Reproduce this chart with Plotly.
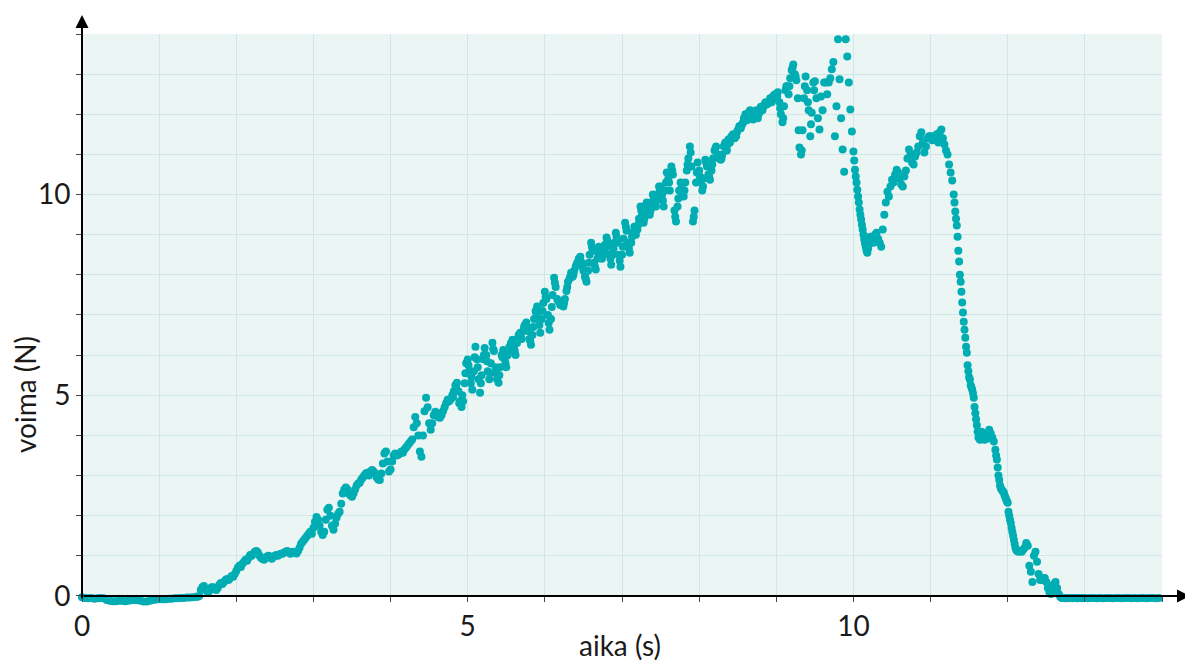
import numpy as np
import plotly.graph_objects as go

# ---------------- data ----------------
# start: 0.00 .. 1.48 s, every 0.04 s
f_start = [-0.03, -0.05, -0.06, -0.05, -0.07, -0.06, -0.05, -0.06, -0.10, -0.12,
           -0.13, -0.13, -0.12, -0.12, -0.13, -0.12, -0.11, -0.10, -0.11, -0.12,
           -0.14, -0.14, -0.12, -0.10, -0.09, -0.08, -0.08, -0.08, -0.07, -0.07,
           -0.06, -0.06, -0.05, -0.05, -0.04, -0.04, -0.03, -0.02]

# main: 1.50 .. 12.98 s, every 0.02 s (one row = half a second)
f_main = [
    # 1.50
    -0.02, 0.00, 0.15, 0.22, 0.25, 0.18, 0.12, 0.10, 0.15, 0.22, 0.22, 0.18, 0.15,
    0.20, 0.28, 0.32, 0.30, 0.35, 0.40, 0.42, 0.40, 0.45, 0.50, 0.48, 0.55,
    # 2.00
    0.62, 0.70, 0.75, 0.72, 0.80, 0.85, 0.90, 0.88, 0.95, 1.02, 1.00, 1.05, 1.10,
    1.12, 1.08, 1.00, 0.95, 0.92, 0.90, 0.95, 0.98, 1.00, 0.95, 0.93, 0.97,
    # 2.50
    1.00, 1.02, 1.00, 1.03, 1.05, 1.05, 1.08, 1.10, 1.12, 1.10, 1.05, 1.08, 1.10,
    1.08, 1.06, 1.12, 1.20, 1.30, 1.35, 1.40, 1.45, 1.50, 1.55, 1.60, 1.55,
    # 3.00
    1.70, 1.85, 1.97, 1.90, 1.75, 1.60, 1.52, 1.60, 1.90, 2.15, 2.20, 2.00, 1.75,
    1.65, 1.80, 1.95, 2.05, 2.10, 2.30, 2.55, 2.65, 2.70, 2.65, 2.55, 2.50,
    # 3.50
    2.47, 2.55, 2.65, 2.75, 2.80, 2.82, 2.90, 2.95, 3.00, 3.05, 3.07, 3.00, 3.10,
    3.14, 3.10, 3.05, 2.95, 2.90, 2.89, 3.05, 3.30, 3.55, 3.60, 3.35, 3.10,
    # 4.00
    3.15, 3.35, 3.50, 3.55, 3.50, 3.52, 3.55, 3.60, 3.57, 3.65, 3.70, 3.75, 3.80,
    3.85, 3.90, 4.20, 4.46, 4.30, 4.00, 3.60, 3.47, 4.00, 4.60, 4.94, 4.70,
    # 4.50
    4.30, 4.14, 4.30, 4.50, 4.59, 4.55, 4.45, 4.44, 4.50, 4.60, 4.70, 4.80, 4.89,
    4.85, 4.90, 5.00, 5.10, 5.25, 5.31, 5.10, 4.85, 4.71, 4.85, 5.30, 5.80,
    # 5.00
    5.89, 5.60, 5.30, 5.14, 5.60, 6.21, 5.90, 5.40, 5.06, 5.50, 5.90, 6.18, 6.00,
    5.60, 5.40, 5.80, 6.31, 6.10, 5.70, 5.40, 5.31, 5.70, 6.00, 6.13, 5.90,
    # 5.50
    5.70, 6.00, 6.20, 6.30, 6.38, 6.20, 6.00, 6.30, 6.50, 6.56, 6.40, 6.60, 6.75,
    6.81, 6.60, 6.40, 6.26, 6.50, 6.90, 7.10, 7.21, 6.90, 6.56, 6.90, 7.30,
    # 6.00
    7.58, 7.40, 7.00, 6.63, 6.90, 7.50, 7.93, 7.70, 7.40, 7.33, 7.25, 7.30, 7.21,
    7.40, 7.60, 7.83, 7.90, 8.05, 7.95, 8.10, 8.20, 8.30, 8.40, 8.45, 8.30,
    # 6.50
    8.10, 7.95, 7.83, 8.10, 8.50, 8.80, 8.60, 8.30, 8.13, 8.40, 8.70, 8.60, 8.40,
    8.50, 8.75, 8.93, 8.70, 8.50, 8.25, 8.50, 8.80, 9.05, 8.80, 8.50, 8.20,
    # 7.00
    8.50, 8.90, 9.30, 9.10, 8.80, 8.55, 8.80, 9.05, 9.20, 9.00, 9.13, 9.40, 9.70,
    9.50, 9.30, 9.60, 9.80, 9.70, 9.50, 9.80, 10.00, 9.90, 9.70, 10.00, 10.20,
    # 7.50
    10.20, 10.00, 9.70, 10.10, 10.55, 10.40, 10.10, 10.70, 10.50, 9.60, 9.33, 9.70, 10.10,
    10.30, 10.00, 9.95, 10.30, 10.60, 10.90, 11.20, 10.70, 9.33, 9.60, 10.30, 10.80,
    # 8.00
    10.60, 10.30, 10.10, 10.40, 10.87, 10.70, 10.50, 10.37, 10.60, 10.90, 11.10, 11.20, 11.00,
    10.90, 10.87, 11.00, 11.20, 11.30, 11.10, 11.37, 11.30, 11.45, 11.50, 11.40, 11.45,
    # 8.50
    11.60, 11.70, 11.65, 11.75, 11.90, 12.00, 11.85, 12.04, 12.10, 11.95, 11.87, 12.00, 12.10,
    11.90, 12.05, 12.19, 12.10, 12.20, 12.30, 12.25, 12.29, 12.40, 12.30, 12.45, 12.49,
    # 9.00
    12.40, 12.55, 12.30, 12.00, 11.80, 12.20, 12.60, 12.70, 12.50, 12.90, 13.10, 13.24, 13.00,
    12.85, 12.40, 11.17, 11.00, 11.60, 12.40, 12.94, 12.60, 12.10, 11.45, 12.04, 12.79,
    # 9.50
    12.82, 12.40, 11.90, 11.62, 12.44, 12.10, 12.79, 12.79, 12.50, 12.79, 12.90, 13.12, 13.30,
    11.45, 12.20, 13.87, 12.87, 11.90, 11.12, 10.57, 13.87, 13.44, 12.79, 12.12, 11.57,
    # 10.00
    11.07, 10.62, 10.30, 9.95, 9.63, 9.38, 9.13, 8.88, 8.70, 8.55, 8.75, 8.95, 8.85,
    8.80, 9.00, 9.05, 8.90, 8.80, 8.70, 9.13, 9.50, 9.80, 10.07, 9.95, 10.20,
    # 10.50
    10.37, 10.30, 10.50, 10.62, 10.55, 10.40, 10.25, 10.20, 10.45, 10.60, 10.90, 11.12, 11.00,
    10.80, 10.75, 10.95, 11.05, 11.20, 11.45, 11.55, 11.30, 11.05, 11.20, 11.40, 11.45,
    # 11.00
    11.45, 11.35, 11.45, 11.37, 11.50, 11.30, 11.55, 11.62, 11.40, 11.25, 11.10, 11.00, 10.75,
    10.55, 10.35, 10.00, 9.58, 9.23, 8.60, 8.00, 7.58, 7.06, 6.63, 6.21, 5.75,
    # 11.50
    5.45, 5.25, 5.14, 4.94, 4.55, 4.25, 3.95, 3.89, 4.09, 3.95, 3.89, 4.05, 3.92,
    4.14, 4.05, 3.95, 3.85, 3.64, 3.40, 3.00, 2.75, 2.65, 2.60, 2.50, 2.40,
    # 12.00
    2.32, 2.00, 1.82, 1.60, 1.40, 1.20, 1.12, 1.10, 1.12, 1.10, 1.15, 1.20, 1.32,
    1.25, 0.75, 0.60, 0.35, 1.00, 1.10, 0.85, 0.55, 0.40, 0.45, 0.40, 0.45,
    # 12.50
    0.35, 0.20, 0.10, 0.05, 0.15, 0.30, 0.35, 0.20, 0.05, -0.02, -0.05, -0.05, -0.06,
    -0.05, -0.06, -0.05, -0.05, -0.06, -0.05, -0.05, -0.06, -0.05, -0.05, -0.06, -0.05,
]

# end: 13.00 .. 13.96 s, every 0.04 s
f_end = [-0.05, -0.06, -0.05, -0.05, -0.06, -0.05, -0.06, -0.05, -0.05, -0.06,
         -0.05, -0.05, -0.06, -0.05, -0.05, -0.06, -0.05, -0.06, -0.05, -0.05,
         -0.06, -0.05, -0.05, -0.06, -0.05]

# extra samples in between (noisy band 4.81 .. 9.49 s, every 0.04 s)
f_band = [
    4.95, 5.20, 4.80, 5.00, 5.55,
    5.75, 5.45, 5.95, 5.70, 5.30, 6.00, 5.85, 5.55, 6.15, 5.55, 5.50, 5.95, 5.80,
    6.10, 6.25, 6.10, 6.40, 6.45, 6.70, 6.70, 6.35, 6.70, 7.05, 6.75, 7.10,
    7.45, 6.80, 7.20, 7.80, 7.35, 7.28, 7.30, 7.70, 7.95, 8.00, 8.25, 8.40, 8.20,
    7.90, 8.30, 8.70, 8.20, 8.55, 8.50, 8.60, 8.85, 8.40, 8.65, 8.95, 8.35,
    8.70, 9.20, 8.65, 8.95, 9.10, 9.25, 9.60, 9.40, 9.75, 9.60, 9.95, 9.85, 10.10,
    9.85, 10.30, 10.30, 10.60, 9.45, 9.90, 10.15, 10.10, 10.75, 11.05, 9.45, 10.55,
    10.45, 10.20, 10.80, 10.45, 10.75, 11.15, 10.95, 10.90, 11.25, 11.25, 11.40, 11.45, 11.55,
    11.70, 11.80, 11.95, 12.05, 11.90, 12.05, 12.00, 12.15, 12.25, 12.27, 12.35, 12.47,
    12.45, 12.15, 11.90, 12.70, 12.70, 13.15, 12.95, 11.60, 11.10, 12.70, 12.30, 11.75, 12.60,
]
# extra samples on the steep parts
f_drop1 = [10.85, 10.45, 10.12, 9.80, 9.50, 9.25, 9.00, 8.78, 8.60, 8.65]          # 10.01 ..
f_drop2 = [9.80, 9.40, 8.95, 8.33, 7.83, 7.31, 6.83, 6.43, 6.06, 5.60, 5.39, 5.20,
           5.05, 4.71, 4.40, 4.09]                                                   # 11.31 ..
f_drop3 = [3.50, 3.20, 2.89, 2.69, 2.62, 2.57, 2.45, 2.36, 2.10, 1.90, 1.70, 1.50,
           1.30, 1.15]                                                               # 11.85 ..

# sampling times of each block
t_start = 0.00 + 0.04 * np.arange(len(f_start))
t_main = 1.50 + 0.02 * np.arange(len(f_main))
t_end = 13.00 + 0.04 * np.arange(len(f_end))
t_band = 4.81 + 0.04 * np.arange(len(f_band))
t_drop1 = 10.01 + 0.02 * np.arange(len(f_drop1))
t_drop2 = 11.31 + 0.02 * np.arange(len(f_drop2))
t_drop3 = 11.85 + 0.02 * np.arange(len(f_drop3))

t_all = np.concatenate([t_start, t_main, t_end, t_band, t_drop1, t_drop2, t_drop3])
f_all = np.concatenate([f_start, f_main, f_end, f_band, f_drop1, f_drop2, f_drop3])

x_ticks = list(range(0, 15))
x_labels = ["0", "", "", "", "", "5", "", "", "", "", "10", "", "", "", ""]
y_ticks = list(range(0, 15))
y_labels = ["0", "", "", "", "", "5", "", "", "", "", "10", "", "", "", ""]

x_title = "aika (s)"
y_title = "voima (N)"

# ---------------- figure ----------------
TEAL = "#00adb3"
FONT = "Lato, 'Open Sans', sans-serif"
Y_MIN = -0.3          # a little room below zero so the sub-zero dots are kept
X_MAX, Y_MAX = 14, 14

# page offset of the plotly div (body margin) is 8 px
W, H = 1185, 654
L, R, T, B = 74, 31, 26, 54
pw, ph = W - L - R, H - T - B
zero_frac = (0 - Y_MIN) / (Y_MAX - Y_MIN)     # paper y of the value 0

fig = go.Figure()
fig.add_trace(go.Scatter(
    x=t_all, y=f_all, mode="markers",
    marker=dict(color=TEAL, size=8, line=dict(width=0)),
    cliponaxis=False, showlegend=False, hoverinfo="x+y",
))

axis_common = dict(
    showgrid=True, gridcolor="#cfe7e8", gridwidth=1,
    zeroline=False, showline=False,
    ticks="outside", ticklen=5, tickwidth=1, tickcolor="#444",
    tickfont=dict(family=FONT, size=28, color="#1a1a1a"),
    fixedrange=True,
)

fig.update_xaxes(range=[0, X_MAX], tickvals=x_ticks, ticktext=x_labels,
                 anchor="free", position=zero_frac, **axis_common)
fig.update_yaxes(range=[Y_MIN, Y_MAX], tickvals=y_ticks, ticktext=y_labels, **axis_common)

# white strip below the zero line (covers background and grid, under the dots)
fig.add_shape(type="rect", xref="x", yref="y", x0=0, x1=X_MAX, y0=Y_MIN, y1=0,
              fillcolor="white", line=dict(width=0), layer="between")

annotations = [
    # x axis arrow (from origin to beyond the right edge)
    dict(xref="paper", yref="paper", x=(1190 - 82) / pw, y=zero_frac,
         ax=-(1190 - 82), ay=0, axref="pixel", ayref="pixel",
         showarrow=True, text="", arrowhead=2, arrowsize=1.3, arrowwidth=2,
         arrowcolor="black", standoff=0, startstandoff=0),
    # y axis arrow
    dict(xref="paper", yref="paper", x=0, y=(608 - 15) / ph,
         ax=0, ay=(600 - 15), axref="pixel", ayref="pixel",
         showarrow=True, text="", arrowhead=2, arrowsize=1.3, arrowwidth=2,
         arrowcolor="black", standoff=0, startstandoff=0),
    # axis titles
    dict(xref="paper", yref="paper", x=(620 - 82) / pw, y=(608 - 645) / ph,
         text=x_title, showarrow=False, xanchor="center", yanchor="middle",
         font=dict(family=FONT, size=28, color="#1a1a1a")),
    dict(xref="paper", yref="paper", x=(25 - 82) / pw, y=(608 - 395) / ph,
         text=y_title, showarrow=False, xanchor="center", yanchor="middle", textangle=-90,
         font=dict(family=FONT, size=28, color="#1a1a1a")),
]

fig.update_layout(
    width=W, height=H,
    margin=dict(l=L, r=R, t=T, b=B, pad=0),
    paper_bgcolor="white", plot_bgcolor="#ebf5f4",
    annotations=annotations,
    font=dict(family=FONT),
)

fig.write_html("out.html", config={"displayModeBar": False})
